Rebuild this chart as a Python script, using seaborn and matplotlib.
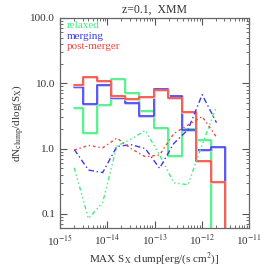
import numpy as np
import pandas as pd
import matplotlib
matplotlib.use("Agg")
import matplotlib.pyplot as plt
from matplotlib.ticker import LogLocator, FixedLocator, NullFormatter
import seaborn as sns

# bin centres (factor-2 bins in flux)
flux = [2e-15, 4e-15, 8e-15, 1.6e-14, 3.2e-14, 6.4e-14, 1.28e-13,
        2.56e-13, 5.12e-13, 1.02e-12, 2.05e-12, 4.1e-12, 8.2e-12, 1.64e-11]

# histograms (0 = empty bin)
hist_relaxed = [4.2, 1.74, 4.7, 11.6, 7.2, 3.8, 2.1, 0.77, 2.0, 1.37, 0, 0, 0, 0]
hist_merging = [8.75, 4.8, 9.5, 5.9, 5.0, 3.2, 8.15, 6.5, 1.95, 0.97, 1.05, 0, 0, 0]
hist_post = [9.3, 12.7, 11.0, 6.3, 5.8, 6.1, 7.9, 6.0, 3.6, 0.64, 0.31, 0, 0, 0]

# dash-dot curves (first 11 bin centres)
curve_relaxed = [0.51, 0.085, 0.15, 1.1, 1.4, 1.9, 0.8, 0.3, 0.28, 1.15, 4.4]
curve_merging = [0.97, 0.47, 0.43, 1.08, 1.15, 1.0, 0.5, 1.2, 1.95, 6.7, 2.5]
curve_post = [0.95, 1.12, 1.03, 1.45, 1.0, 0.75, 0.8, 1.7, 2.3, 3.1, 1.5]

labels = ["relaxed", "merging", "post-merger"]
colors = ["#3cf07a", "#3a3af5", "#f5453a"]
light = ["#c8fad8", "#c8c8fc", "#fbc8c2"]
dashes = [(0, (3, 2, 1, 2, 1, 2, 1, 2)), (0, (4, 2, 1, 2)), (0, (2, 2, 1, 2))]

sns.set_style("ticks")
plt.rcParams["font.family"] = ["Liberation Serif", "DejaVu Serif"]
plt.rcParams["mathtext.fontset"] = "stix"

fig = plt.figure(figsize=(2.66, 2.66), dpi=100)
ax = fig.add_axes([0.2256, 0.1429, 0.7105, 0.7895])

floor = 1e-3
hists = [hist_relaxed, hist_merging, hist_post]
curves = [curve_relaxed, curve_merging, curve_post]

for h, c, lc in zip(hists, colors, light):
    y = [v if v > 0 else floor for v in h]
    df = pd.DataFrame({"x": flux, "y": y})
    sns.lineplot(data=df, x="x", y="y", ax=ax, color=lc, lw=2.0,
                 drawstyle="steps-mid", sort=False, estimator=None)
    sns.lineplot(data=df, x="x", y="y", ax=ax, color=c, lw=1.1,
                 drawstyle="steps-mid", sort=False, estimator=None)

for cv, c, ls in zip(curves, colors, dashes):
    df = pd.DataFrame({"x": flux[:len(cv)], "y": cv})
    sns.lineplot(data=df, x="x", y="y", ax=ax, color=c, lw=1.0,
                 linestyle=ls, sort=False, estimator=None)

ax.set_xscale("log")
ax.set_yscale("log")
ax.set_xlim(1e-15, 1e-11)
ax.set_ylim(0.061, 100)

ax.xaxis.set_major_locator(FixedLocator([1e-15, 1e-14, 1e-13, 1e-12, 1e-11]))
ax.xaxis.set_minor_locator(LogLocator(base=10, subs=np.arange(2, 10), numticks=20))
ax.xaxis.set_minor_formatter(NullFormatter())
ax.set_xticklabels([r"10$^{-15}$", r"10$^{-14}$", r"10$^{-13}$",
                    r"10$^{-12}$", r"10$^{-11}$"])
ax.yaxis.set_major_locator(FixedLocator([0.1, 1, 10, 100]))
ax.yaxis.set_minor_locator(LogLocator(base=10, subs=np.arange(2, 10), numticks=20))
ax.yaxis.set_minor_formatter(NullFormatter())
ax.set_yticklabels(["0.1", "1.0", "10.0", "100.0"])

ax.tick_params(which="both", direction="in", top=True, right=True,
               colors="#555555", labelcolor="#333333", labelsize=8)
ax.tick_params(which="major", length=5, width=0.8)
ax.tick_params(which="minor", length=2.5, width=0.6)
for sp in ax.spines.values():
    sp.set_color("#666666")
    sp.set_linewidth(0.9)

ax.set_xlabel(r"MAX S$_{\rm X}$ clump[erg/(s cm$^2$)]", fontsize=8,
              color="#333333", labelpad=2)
ax.set_ylabel(r"dN$_{\rm clump}$/dlog(S$_{\rm X}$)", fontsize=8,
              color="#333333", labelpad=3)
ax.set_title("z=0.1,  XMM", fontsize=8.5, color="#333333", pad=4)

for i, (lab, c) in enumerate(zip(labels, colors)):
    ax.text(0.035, 0.962 - i * 0.048, lab, transform=ax.transAxes,
            color=c, fontsize=8, va="center", ha="left")

fig.savefig("out.png", dpi=100)
